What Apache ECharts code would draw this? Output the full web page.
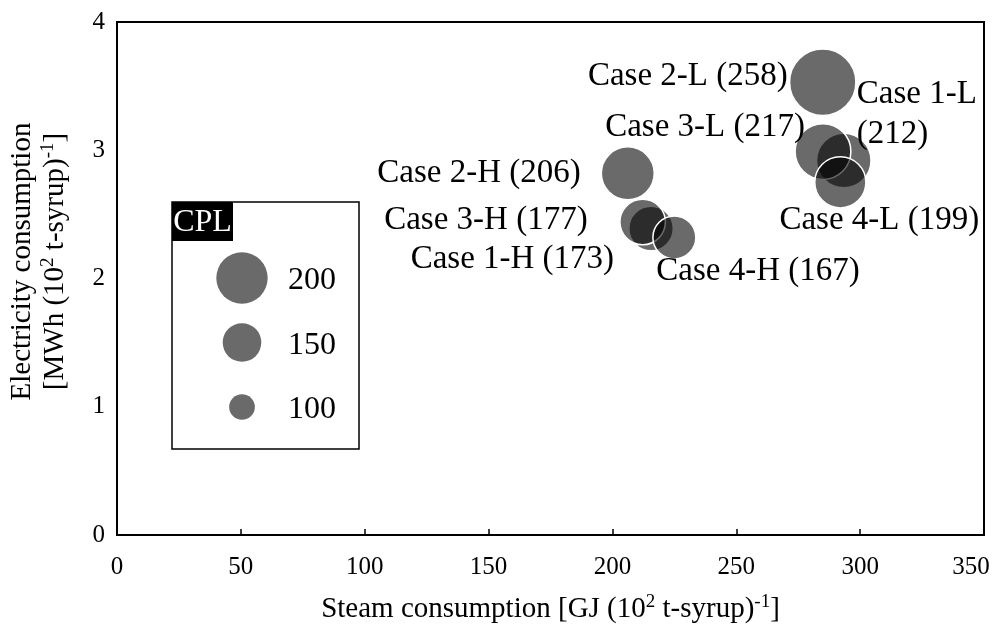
<!DOCTYPE html>
<html>
<head>
<meta charset="utf-8">
<script src="https://cdn.jsdelivr.net/npm/echarts@6/dist/echarts.min.js"></script>
<style>
  html, body { margin: 0; padding: 0; background: #fff; }
  #chart { width: 1006px; height: 627px; }
</style>
</head>
<body>
<div id="chart"></div>
<script>
// Case names, steam use, electricity use and CPL for each process case
const cases = ['Case 1-L', 'Case 1-H', 'Case 2-L', 'Case 2-H', 'Case 3-L', 'Case 3-H', 'Case 4-L', 'Case 4-H'];
const steam = [293.4, 215.6, 284.9, 206.2, 285.0, 212.2, 292.0, 225.0];
const electricity = [2.92, 2.39, 3.53, 2.82, 2.99, 2.44, 2.75, 2.32];
const cpl = [212, 173, 258, 206, 217, 177, 199, 167];

// Reference bubble sizes for the CPL key
const keyValues = [200, 150, 100];

const xTicks = { min: 0, max: 350, step: 50 };
const yTicks = { min: 0, max: 4, step: 1 };

const FONT = "'Liberation Serif', 'Times New Roman', serif";
const BUBBLE_FILL = 'rgba(0,0,0,0.585)';
const sizeOf = v => v * 0.257;   // bubble width grows with the value

// Label anchor relative to each bubble centre: [dx, dy, align, text]
const labelPlacement = {
  'Case 1-L': [13, -46, 'left', 'Case 1-L\n(212)'],
  'Case 1-H': [-37, 31, 'right'],
  'Case 2-L': [-35, -6, 'right'],
  'Case 2-H': [-47, 0, 'right'],
  'Case 3-L': [-18, -24, 'right'],
  'Case 3-H': [-55, -2, 'right'],
  'Case 4-L': [39, 38, 'center'],
  'Case 4-H': [-18, 34, 'left']
};

const bubbleData = cases.map((name, i) => {
  const p = labelPlacement[name];
  return {
    name: name,
    value: [steam[i], electricity[i], cpl[i]],
    label: {
      show: true,
      position: 'inside',
      offset: [p[0], p[1]],
      align: p[2],
      verticalAlign: 'middle',
      formatter: p[3] ? p[3] : name + ' (' + cpl[i] + ')'
    }
  };
});

// Key layout inside its own small grid (pixel-like units)
const keyData = keyValues.map((v, i) => ({
  value: [70, 76 + i * 64.5, v]
}));

const chart = echarts.init(document.getElementById('chart'), null, { renderer: 'canvas' });

chart.setOption({
  backgroundColor: '#fff',
  animation: false,
  textStyle: { fontFamily: FONT, color: '#000' },
  grid: [
    { left: 117, right: 22, top: 22, bottom: 92, show: true, borderColor: '#000', borderWidth: 2, backgroundColor: 'transparent', containLabel: false, outerBoundsMode: 'none' },
    { left: 172, top: 202, width: 187, height: 247, show: true, borderColor: '#000', borderWidth: 1.5, backgroundColor: '#fff', containLabel: false, outerBoundsMode: 'none' }
  ],
  xAxis: [
    {
      gridIndex: 0,
      type: 'value',
      min: xTicks.min, max: xTicks.max, interval: xTicks.step,
      axisLine: { show: true, lineStyle: { color: '#000', width: 2 } },
      axisTick: { show: true, inside: true, length: 6, lineStyle: { color: '#000', width: 1.5 } },
      splitLine: { show: false },
      axisLabel: {
        fontFamily: FONT, fontSize: 25, color: '#000', margin: 20,
        formatter: v => (v === xTicks.max ? '{m|' + v + '}' : String(v)),
        rich: { m: { fontFamily: FONT, fontSize: 25, color: '#000', padding: [0, 26, 0, 0] } }
      },
      name: 'Steam consumption [GJ (10{s|2} t-syrup){s|-1}]',
      nameLocation: 'middle',
      nameGap: 58,
      nameTextStyle: {
        fontFamily: FONT, fontSize: 29, color: '#000', lineHeight: 32,
        rich: { s: { fontFamily: FONT, fontSize: 19, lineHeight: 16, verticalAlign: 'top', color: '#000' } }
      }
    },
    { gridIndex: 1, type: 'value', min: 0, max: 187, show: false }
  ],
  yAxis: [
    {
      gridIndex: 0,
      type: 'value',
      min: yTicks.min, max: yTicks.max, interval: yTicks.step,
      axisLine: { show: true, lineStyle: { color: '#000', width: 2 } },
      axisTick: { show: false },
      splitLine: { show: false },
      axisLabel: { fontFamily: FONT, fontSize: 25, color: '#000', margin: 12 },
      name: '{t|Electricity consumption}\n{t|[MWh (10}{s|2}{t| t-syrup)}{s|-1}{t|]}',
      nameLocation: 'middle',
      nameRotate: 90,
      nameGap: 45,
      nameTextStyle: {
        fontFamily: FONT, fontSize: 29, color: '#000',
        padding: [0, 0, 0, 34],
        rich: {
          t: { fontFamily: FONT, fontSize: 29, lineHeight: 33, color: '#000' },
          s: { fontFamily: FONT, fontSize: 19, lineHeight: 16, verticalAlign: 'top', color: '#000' }
        }
      }
    },
    { gridIndex: 1, type: 'value', min: 0, max: 247, inverse: true, show: false }
  ],
  series: [
    {
      type: 'scatter',
      xAxisIndex: 0, yAxisIndex: 0,
      data: bubbleData,
      symbol: 'circle',
      symbolSize: v => sizeOf(v[2]),
      itemStyle: { color: BUBBLE_FILL, borderColor: '#fff', borderWidth: 1.5, opacity: 1 },
      label: { fontFamily: FONT, fontSize: 33, color: '#000', lineHeight: 40 },
      emphasis: { disabled: true },
      z: 3
    },
    {
      type: 'scatter',
      xAxisIndex: 1, yAxisIndex: 1,
      data: keyData,
      symbol: 'circle',
      symbolSize: v => sizeOf(v[2]),
      itemStyle: { color: BUBBLE_FILL, opacity: 1 },
      label: {
        show: true, position: 'inside', offset: [46, 3], align: 'left', verticalAlign: 'middle',
        fontFamily: FONT, fontSize: 32, color: '#000',
        formatter: p => String(p.value[2])
      },
      emphasis: { disabled: true },
      z: 3
    }
  ],
  graphic: [
    {
      type: 'group',
      left: 172, top: 202, z: 10,
      children: [
        { type: 'rect', shape: { x: 0, y: 0, width: 61, height: 39 }, style: { fill: '#000' } },
        { type: 'text', x: 30.5, y: 21, style: { text: 'CPL', fill: '#fff', font: '32px ' + FONT, align: 'center', verticalAlign: 'middle' } }
      ]
    }
  ]
});
</script>
</body>
</html>
